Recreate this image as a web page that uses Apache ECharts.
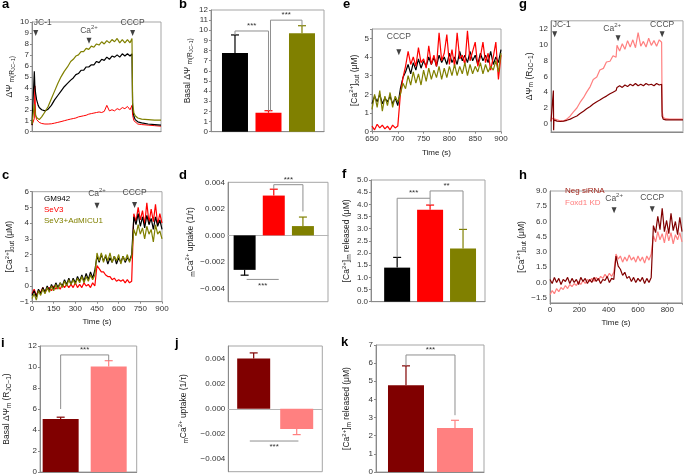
<!DOCTYPE html>
<html><head><meta charset="utf-8">
<script src="https://cdn.jsdelivr.net/npm/echarts@6/dist/echarts.min.js"></script>
<style>html,body{margin:0;padding:0;background:#fff}#chart{width:685px;height:476px}</style>
</head><body><div id="chart"></div>
<script>
// ================= DATA =================
// Panel a : JC-1 ratio traces (arbitrary time units)
const tA = [0,10,18,22,28,36,48,56,75,100,125,150,175,200,225,250,275,300,320,340,360,380,400,420,440,460,480,500,520,540,560,580,600,620,640,660,680,700,720,740,760,775,780,790,800,820,850,900,950,1000];
const aBlack = [0.6,0.7,5.5,4.2,3.5,2.9,2.4,2.2,2.0,1.9,2.05,2.4,2.9,3.3,3.7,4.1,4.4,4.7,4.9,5.2,5.3,5.6,5.6,5.9,5.9,6.1,6.1,6.4,6.3,6.6,6.5,6.8,6.6,6.9,6.8,7.0,6.8,7.1,6.9,7.1,6.9,7.1,2.2,1.4,1.1,0.9,0.8,0.7,0.65,0.6];
const aRed = [0.6,0.7,1.2,4.2,1.5,1.1,0.95,0.85,0.75,0.7,0.7,0.72,0.78,0.85,0.92,1.0,1.08,1.15,1.2,1.25,1.35,1.4,1.45,1.5,1.6,1.65,1.7,1.75,1.8,1.75,1.85,2.4,1.9,2.0,1.9,2.1,2.0,2.2,2.1,2.3,2.0,2.4,1.5,1.0,0.85,0.7,0.65,0.6,0.55,0.5];
const aOlive = [0.7,0.8,2.5,2.0,1.5,1.3,1.15,1.1,1.35,1.8,2.3,3.0,3.7,4.4,5.0,5.5,5.9,6.4,6.6,6.9,7.0,7.3,7.3,7.6,7.5,7.8,7.7,8.0,7.9,8.2,8.0,8.3,8.1,8.4,8.2,8.5,8.1,8.4,8.1,8.4,8.1,8.5,2.6,1.7,1.45,1.25,1.15,1.1,1.05,1.05];
const evNamesA = ['JC-1','Ca2+','CCCP'];
const evTimesA = [29,442,780];
const evLevelsA = [9.0,8.3,9.0];

// Panel b : basal ΔΨm
const groups3 = ['GM942','SeV3','SeV3+AdMICU1'];
const bMean = [7.75,1.87,9.7];
const bSem = [1.79,0.2,0.75];

// Panel e : [Ca2+]out around CCCP
const tE = [650,655,660,665,670,675,680,685,690,695,700,705,710,715,720,725,730,735,740,745,750,755,760,765,770,775,780,785,790,795,800,805,810,815,820,825,830,835,840,845,850,855,860,865,870,875,880,885,890,895,900];
const eRed = [0.3,0.1,0.4,0.2,0.35,0.15,0.3,0.1,0.35,0.2,0.3,2.0,2.9,3.5,4.3,3.6,4.0,3.5,4.5,3.7,3.9,3.4,4.6,3.6,4.1,3.5,5.3,3.8,4.2,5.2,3.6,4.4,3.5,5.3,3.9,4.1,3.6,5.4,3.8,4.3,4.8,3.5,4.0,4.8,3.7,4.2,3.3,4.0,4.8,2.8,4.1];
const eBlack = [1.5,1.9,1.6,2.0,1.5,1.8,1.6,1.9,1.5,1.8,1.4,2.3,2.9,3.2,3.6,3.1,3.7,3.3,3.9,3.4,3.8,3.5,4.0,3.6,4.0,3.5,4.1,3.7,4.0,3.6,4.2,3.7,4.0,3.6,4.3,3.8,4.1,3.7,4.3,3.8,4.1,3.6,4.2,3.8,4.1,3.7,4.3,3.6,4.0,3.7,4.4];
const eOlive = [1.2,2.0,1.3,2.2,1.1,1.9,1.4,2.1,1.3,1.9,1.6,2.0,2.6,2.3,3.0,2.5,3.2,2.6,3.1,2.5,3.3,2.7,3.4,2.8,3.3,2.9,3.5,2.8,3.4,2.9,3.5,3.0,3.6,3.0,3.5,3.1,3.7,3.0,3.6,3.1,3.5,3.2,3.7,3.1,3.6,3.2,3.5,3.3,3.8,3.2,4.2];
const evNamesE = ['CCCP'];
const evTimesE = [702];
const evLevelsE = [4.26];

// Panel g : JC-1 traces, Neg siRNA vs Foxd1 KD
const tG = [0,8,18,20,22,30,45,70,95,120,146,170,196,220,246,270,297,320,347,370,397,420,447,470,493,500,520,540,560,580,600,620,640,660,680,700,720,740,760,780,800,820,838,842,850,870,900,950,1000];
const gPink = [0.4,0.7,0.9,0.6,0.8,0.6,0.5,0.4,0.35,0.6,1.0,1.5,2.0,2.7,3.3,4.0,4.7,5.6,5.9,6.8,7.0,7.8,7.9,8.6,8.4,9.9,9.2,10.1,9.4,10.5,9.7,10.6,9.6,11.5,9.8,10.4,9.7,10.8,9.9,10.5,9.8,10.6,10.3,1.6,0.8,0.65,0.6,0.6,0.6];
const gDark = [0.3,0.4,4.2,-0.8,0.5,0.4,0.35,0.3,0.35,0.45,0.6,0.8,1.0,1.3,1.6,1.9,2.2,2.5,2.8,3.0,3.3,3.5,3.8,4.0,4.2,4.6,4.8,4.6,4.9,4.7,5.0,4.8,5.1,4.8,5.0,4.8,5.1,4.9,5.0,4.8,5.1,4.9,5.0,1.0,0.6,0.5,0.5,0.5,0.5];
const evNamesG = ['JC-1','Ca2+','CCCP'];
const evTimesG = [28,508,842];
const evLevelsG = [11.3,10.8,11.3];

// Panel c : [Ca2+]out traces
const tC = [0,15,30,45,60,75,90,105,120,135,150,165,180,195,210,225,240,255,270,285,300,315,330,345,360,375,390,405,420,435,450,465,480,495,510,525,540,555,570,585,600,615,630,645,660,675,690,705,720,735,750,765,780,795,810,825,840,855,870,885,900];
const cBlack = [-0.6,-0.3,-0.7,-0.2,-0.5,-0.1,-0.4,0.0,-0.3,0.1,-0.2,0.2,-0.1,0.2,0.0,0.4,0.1,0.5,0.1,0.5,0.2,0.6,0.3,0.7,0.3,0.8,0.4,0.9,0.5,1.0,1.9,1.5,2.0,1.6,1.9,1.4,1.8,1.5,1.9,1.4,1.8,1.5,1.9,1.5,1.8,1.6,2.0,4.4,3.9,4.6,3.8,4.4,3.7,4.5,3.9,4.3,3.6,4.4,3.8,4.2,3.6];
const cRed = [-0.5,-0.2,-0.6,-0.3,-0.4,-0.1,-0.4,-0.2,-0.1,-0.3,0.0,-0.2,0.0,-0.2,0.1,-0.1,0.1,-0.1,0.1,-0.1,0.2,-0.1,0.1,-0.1,0.2,0.0,0.1,-0.1,0.2,0.0,1.3,1.1,0.9,0.9,0.7,0.6,0.6,0.4,0.5,0.3,0.4,0.3,0.4,0.2,0.4,0.2,0.3,4.6,4.1,5.0,4.2,4.8,3.9,5.3,4.0,4.9,4.1,5.2,3.9,4.6,4.0];
const cOlive = [-0.8,-0.5,-0.9,-0.3,-0.6,-0.2,-0.5,-0.1,-0.4,0.0,-0.3,0.1,-0.2,0.2,-0.1,0.3,0.0,0.4,0.1,0.4,0.1,0.5,0.2,0.6,0.2,0.6,0.3,0.7,0.4,0.7,2.1,1.6,2.1,1.5,2.0,1.6,2.1,1.5,1.9,1.6,2.0,1.4,1.9,1.6,2.0,1.5,1.9,3.6,3.2,3.9,3.3,3.7,3.0,3.8,3.3,3.6,2.8,3.9,3.3,3.5,3.0];
const evNamesC = ['Ca2+','CCCP'];
const evTimesC = [450,710];
const evLevelsC = [5.1,5.15];

// Panel d : mCa2+ uptake
const dMean = [-0.0026,0.0030,0.0007];
const dSem = [0.0004,0.00048,0.00068];

// Panel f : [Ca2+]m released
const fMean = [1.4,3.78,2.19];
const fSem = [0.42,0.19,0.78];

// Panel h : [Ca2+]out traces, Neg siRNA vs Foxd1 KD
const groups2 = ['Neg siRNA','Foxd1 KD'];
const tH = tC;
const hDark = [0.3,-0.1,0.5,0.0,0.4,-0.2,0.3,0.1,0.5,-0.1,0.4,0.0,0.3,-0.2,0.5,0.1,0.4,-0.1,0.3,0.0,0.5,0.1,0.4,-0.1,0.3,0.2,0.6,0.0,0.4,0.3,2.6,1.6,1.3,0.7,1.0,0.4,0.6,0.1,0.5,0.0,0.4,0.1,0.5,-0.1,0.4,0.0,0.5,5.6,4.9,6.5,5.2,7.3,5.0,6.1,4.8,6.8,5.1,6.0,4.7,6.4,5.0];
const hPink = [-1.2,-0.8,-1.1,-0.6,-0.9,-0.5,-0.7,-0.3,-0.6,-0.2,-0.4,-0.1,-0.3,0.1,-0.2,0.2,-0.1,0.3,0.1,0.4,0.1,0.5,0.2,0.6,0.4,0.8,0.5,0.9,0.6,1.0,2.8,2.3,2.6,2.0,2.5,2.1,2.7,2.2,2.5,2.0,2.6,2.1,2.5,1.9,2.6,2.2,2.8,4.6,4.0,5.0,4.2,4.8,3.9,5.1,4.1,4.9,3.8,4.7,4.2,4.9,4.0];
const evNamesH = ['Ca2+','CCCP'];
const evTimesH = [437,697];
const evLevelsH = [7.1,7.2];

// Panels i, j, k : bar summaries (Neg siRNA, Foxd1 KD)
const iMean = [5.05,10.05];
const iSem = [0.17,0.55];
const jMean = [0.0040,-0.0016];
const jSem = [0.00045,0.00045];
const kMean = [4.78,2.42];
const kSem = [1.07,0.43];

// Significance annotations
const sigB = [{from:0,to:1,h:9.93,l:9.54,r:2.07,text:'***'},{from:1.06,to:2,h:11.0,l:2.07,r:10.45,text:'***'}];
const sigD = [{from:1,to:2,h:0.00382,l:0.00348,r:0.0018,text:'***'},{from:0.07,to:1.17,h:-0.00332,text:'***',below:true}];
const sigF = [{from:0,to:1,h:4.25,l:1.82,r:3.97,text:'***'},{from:1,to:2,h:4.55,l:4.25,r:2.97,text:'**'}];
const sigI = [{from:0,to:1,h:11.15,l:6.0,r:10.6,text:'***'}];
const sigJ = [{from:-0.09,to:1.04,h:-0.00256,text:'***',below:true}];
const sigK = [{from:0,to:1,h:6.45,l:5.85,r:3.13,text:'***'}];

// ================= STYLE / BUILD =================
const FONT = '"Liberation Sans", Arial, Helvetica, sans-serif';
const COL = {black:'#000000', red:'#ff0000', olive:'#808000', dark:'#800000', pink:'#ff8080'};
const col3 = [COL.black, COL.red, COL.olive];
const col2 = [COL.dark, COL.pink];
const AX = '#8a8a8a';
const RICH = {
  n:{fontSize:8.5, lineHeight:12, fontFamily:FONT, color:'#222'},
  s:{fontSize:6.5, lineHeight:7, verticalAlign:'bottom', fontFamily:FONT, color:'#222'},
  ss:{fontSize:5, lineHeight:5, verticalAlign:'bottom', fontFamily:FONT, color:'#222'},
  sup:{fontSize:6, lineHeight:6, verticalAlign:'top', fontFamily:FONT, color:'#222'}
};
const mfmt = s => String(s).replace('-', '\u2212');

const grids=[], xAxes=[], yAxes=[], series=[];
function merge(base, ext){ const o = Object.assign({}, base); for (const k in ext){ if (ext[k] && typeof ext[k]==='object' && !Array.isArray(ext[k]) && base[k] && typeof base[k]==='object') o[k]=Object.assign({}, base[k], ext[k]); else o[k]=ext[k]; } return o; }
function panel(box, x, y){
  const i = grids.length;
  grids.push({left:box[0], top:box[1], width:box[2], height:box[3], show:true, borderColor:'#a5a5a5', borderWidth:1});
  xAxes.push(merge({type:'value', gridIndex:i, axisLine:{show:true, onZero:false, lineStyle:{color:AX}}, axisTick:{show:false, length:2, lineStyle:{color:AX}}, axisLabel:{show:false, fontSize:8, color:'#333', margin:3, fontFamily:FONT}, splitLine:{show:false}, nameLocation:'middle', nameTextStyle:{fontSize:8, color:'#222', fontFamily:FONT}}, x));
  yAxes.push(merge({type:'value', gridIndex:i, axisLine:{show:true, onZero:false, lineStyle:{color:AX}}, axisTick:{show:true, length:2, lineStyle:{color:AX}}, axisLabel:{fontSize:8, color:'#333', margin:3, fontFamily:FONT, formatter:mfmt}, splitLine:{show:false}, nameLocation:'middle', nameRotate:90, nameTextStyle:{fontSize:8, color:'#222', fontFamily:FONT, rich:RICH}}, y));
  return i;
}
function line(gi, name, t, v, color, z, w){
  return {type:'line', name, xAxisIndex:gi, yAxisIndex:gi, data:t.map((x,k)=>[x, v[k]]), showSymbol:false, symbol:'none', lineStyle:{color, width:w||1}, itemStyle:{color}, z:z||2, silent:true};
}
function bars(gi, means, colors, width){
  return {type:'bar', xAxisIndex:gi, yAxisIndex:gi, barWidth:width, data:means.map((m,k)=>({value:[k,m], itemStyle:{color:colors[k]}})), z:2, silent:true};
}
function errs(gi, means, sems, colors){
  return {type:'custom', xAxisIndex:gi, yAxisIndex:gi, z:3, silent:true,
    data: means.map((m,k)=>[k, m, m + Math.sign(m)*sems[k]]),
    renderItem:(p, api)=>{
      const a = api.coord([api.value(0), api.value(1)]), b = api.coord([api.value(0), api.value(2)]);
      const c = colors[p.dataIndex];
      return {type:'group', children:[
        {type:'line', shape:{x1:a[0], y1:a[1], x2:b[0], y2:b[1]}, style:{stroke:c, lineWidth:1.2}},
        {type:'line', shape:{x1:b[0]-4, y1:b[1], x2:b[0]+4, y2:b[1]}, style:{stroke:c, lineWidth:1.2}}]};
    }};
}
function sig(gi, list){
  return {type:'custom', xAxisIndex:gi, yAxisIndex:gi, z:4, silent:true,
    data: list.map(b=>[b.from, b.to, b.h]),
    renderItem:(p, api)=>{
      const b = list[p.dataIndex];
      const L = api.coord([b.from, b.h]), R = api.coord([b.to, b.h]);
      const st = {stroke:'#8f8f8f', lineWidth:1};
      const ch = [{type:'line', shape:{x1:L[0], y1:L[1], x2:R[0], y2:R[1]}, style:st}];
      if (b.l != null){ const q = api.coord([b.from, b.l]); ch.push({type:'line', shape:{x1:L[0], y1:L[1], x2:q[0], y2:q[1]}, style:st}); }
      if (b.r != null){ const q = api.coord([b.to, b.r]); ch.push({type:'line', shape:{x1:R[0], y1:R[1], x2:q[0], y2:q[1]}, style:st}); }
      ch.push({type:'text', style:{text:b.text, x:(L[0]+R[0])/2, y: b.below ? L[1]+2 : L[1]-1, align:'center', verticalAlign: b.below ? 'top' : 'bottom', fill:'#333', font:'8px ' + FONT}});
      return {type:'group', children:ch};
    }};
}
function events(gi, names, times, levels, aligns, dist){
  return {type:'scatter', xAxisIndex:gi, yAxisIndex:gi, symbol:'triangle', symbolRotate:180, symbolSize:[5,6], itemStyle:{color:'#111'}, z:6, silent:true,
    data: names.map((n,k)=>({name:n, value:[times[k], levels[k]], label:{align:aligns[k], offset:[aligns[k]==='left'?-2:(aligns[k]==='right'?3:0),0]}})),
    label:{show:true, position:'top', distance:dist, formatter:p => p.name==='Ca2+' ? '{n|Ca}{sup|2+}' : '{n|'+p.name+'}', rich:RICH}};
}

const nameDPsi = '{n|ΔΨ }{s|m(R}{ss|JC\u22121}{s|)}';
const nameBasal = '{n|Basal ΔΨ }{s|m(R}{ss|JC\u22121}{s|)}';
const nameDPsi2 = '{n|ΔΨ}{s|m}{n| (R}{s|JC\u22121}{n|)}';
const nameBasal2 = '{n|Basal ΔΨ}{s|m}{n| (R}{s|JC\u22121}{n|)}';
const nameCaOut = '{n|[Ca}{sup|2+}{n|]}{s|out}{n| (μM)}';
const nameUptake = '{s|m}{n|Ca}{sup|2+}{n| uptake (1/τ)}';
const nameRel = '{n|[Ca}{sup|2+}{n|]}{s|m}{n| released (μM)}';

// ---- a
let g = panel([32,22,129,109.7], {min:0, max:1000}, {min:0, max:10, interval:1, name:nameDPsi, nameGap:16});
series.push(line(g,'SeV3',tA,aRed,COL.red,2), line(g,'GM942',tA,aBlack,COL.black,3,1.2), line(g,'SeV3+AdMICU1',tA,aOlive,COL.olive,4,1.2));
series.push(events(g, evNamesA, evTimesA, evLevelsA, ['left','center','center'], 1));
// ---- b
g = panel([211,10,113,121.7], {min:-0.716, max:2.657}, {min:0, max:12, interval:1, name:nameBasal, nameGap:17});
series.push(bars(g,bMean,col3,26), errs(g,bMean,bSem,col3), sig(g,sigB));
// ---- e
g = panel([372,29,129,102.7], {min:650, max:900, interval:50, name:'Time (s)', nameGap:17, axisLabel:{show:true}, axisTick:{show:true}},
  {min:0, max:5.5, interval:1, name:nameCaOut, nameGap:11, axisLabel:{formatter:v=>Number.isInteger(v)?String(v):''}});
series.push(line(g,'GM942',tE,eBlack,COL.black,2,1.2), line(g,'SeV3',tE,eRed,COL.red,3,1.2), line(g,'SeV3+AdMICU1',tE,eOlive,COL.olive,4,1.2));
series.push(events(g, evNamesE, evTimesE, evLevelsE, ['center'], 6));
// ---- g
g = panel([551,20.8,132,111], {min:0, max:1000}, {min:-1, max:13, interval:1, name:nameDPsi2, nameGap:12, axisTick:{show:false}, axisLabel:{formatter:v=>(Math.round(v)%2===0)?mfmt(Math.round(v)):''}});
series.push(line(g,'Foxd1 KD',tG,gPink,COL.pink,2,1.2), line(g,'Neg siRNA',tG,gDark,COL.dark,3,1.2));
series.push(events(g, evNamesG, evTimesG, evLevelsG, ['left','right','center'], 1));
// ---- c
g = panel([32,191.7,130,110], {min:0, max:900, interval:150, name:'Time (s)', nameGap:16, axisLabel:{show:true}, axisTick:{show:true}},
  {min:-1, max:6, interval:1, name:nameCaOut, nameGap:13});
series.push(line(g,'SeV3',tC,cRed,COL.red,2,1.2), line(g,'GM942',tC,cBlack,COL.black,3,1.2), line(g,'SeV3+AdMICU1',tC,cOlive,COL.olive,4,1.2));
series.push(events(g, evNamesC, evTimesC, evLevelsC, ['center','center'], 3));
// ---- d
g = panel([228,182.3,100,119.4], {min:-0.57, max:2.86, axisLine:{onZero:true, lineStyle:{color:'#b5b5b5'}}},
  {min:-0.005, max:0.004, interval:0.001, name:nameUptake, nameGap:31, axisTick:{show:false},
   axisLabel:{formatter:v=>{const k=Math.round(v*1000); return k%2===0 ? mfmt((k/1000).toFixed(3)) : '';}}});
series.push(bars(g,dMean,col3,22), errs(g,dMean,dSem,col3), sig(g,sigD));
// ---- f
g = panel([371,180,114,121.7], {min:-0.794, max:2.667}, {min:0, max:5, interval:0.5, name:nameRel, nameGap:15, axisLabel:{formatter:v=>v.toFixed(1)}});
series.push(bars(g,fMean,col3,26), errs(g,fMean,fSem,col3), sig(g,sigF));
// ---- h
g = panel([550,191,132,111.8], {min:0, max:900, interval:200, name:'Time (s)', nameGap:16, axisLabel:{show:true, formatter:v=>v>850?'':String(v)}, axisTick:{show:true}},
  {min:-2, max:9, interval:0.5, name:nameCaOut, nameGap:21, axisTick:{show:false},
   axisLabel:{formatter:v=>{const r=v/1.5; return Math.abs(r-Math.round(r))<1e-6 ? mfmt(v.toFixed(1)) : '';}}});
series.push(line(g,'Foxd1 KD',tH,hPink,COL.pink,2,1.2), line(g,'Neg siRNA',tH,hDark,COL.dark,3,1.2));
series.push(events(g, evNamesH, evTimesH, evLevelsH, ['center','center'], 3));
// ---- i
g = panel([40,346,96.7,127.3], {min:-0.43, max:1.583}, {min:0, max:12, interval:2, name:nameBasal2, nameGap:27});
series.push(bars(g,iMean,col2,36), errs(g,iMean,iSem,col2), sig(g,sigI));
// ---- j
g = panel([228.3,346,94,125.7], {min:-0.59, max:1.595, axisLine:{onZero:true, lineStyle:{color:'#b5b5b5'}}},
  {min:-0.005, max:0.005, interval:0.001, name:nameUptake, nameGap:39, axisTick:{show:false},
   axisLabel:{formatter:v=>{const k=Math.round(v*1000); return (k%2===0 && Math.abs(k)<5) ? mfmt((k/1000).toFixed(3)) : '';}}});
series.push(bars(g,jMean,col2,33), errs(g,jMean,jSem,col2), sig(g,sigJ));
// ---- k
g = panel([376,345,108,128.3], {min:-0.612, max:1.592}, {min:0, max:7, interval:1, name:nameRel, nameGap:23});
series.push(bars(g,kMean,col2,36), errs(g,kMean,kSem,col2), sig(g,sigK));

const letters = [['a',2,-2],['b',179,-2],['e',343,-2],['g',519,-2],['c',2,169],['d',179,169],['f',342,168],['h',519,169],['i',1,337],['j',175,337],['k',341,336]];

const option = {
  animation:false,
  backgroundColor:'#ffffff',
  textStyle:{fontFamily:FONT},
  grid:grids, xAxis:xAxes, yAxis:yAxes, series,
  legend:[
    {left:34, top:190, orient:'vertical', icon:'none', itemWidth:0, itemHeight:8, itemGap:3, selectedMode:false,
     textStyle:{fontSize:8, fontFamily:FONT},
     data: groups3.map((n,k)=>({name:n, textStyle:{color:col3[k]}}))},
    {left:555, top:182, orient:'vertical', icon:'none', itemWidth:0, itemHeight:8, itemGap:4, selectedMode:false,
     textStyle:{fontSize:8, fontFamily:FONT},
     data: groups2.map((n,k)=>({name:n, textStyle:{color:k===0?'#a3261c':'#ff7c7c'}}))}
  ],
  graphic: letters.map(l=>({type:'text', left:l[1], top:l[2], style:{text:l[0], font:'bold 13px ' + FONT, fill:'#000'}}))
};
const chart = echarts.init(document.getElementById('chart'), null, {renderer:'canvas'});
chart.setOption(option);
</script></body></html>
